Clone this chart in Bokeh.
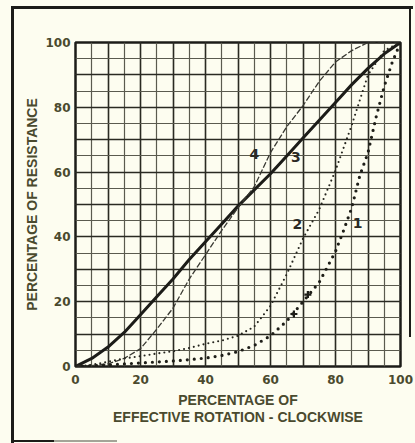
from bokeh.plotting import figure
from bokeh.models import Range1d, SingleIntervalTicker
from bokeh.embed import file_html
from bokeh.resources import INLINE
from bokeh.core.properties import value

# ---- data ----
rotation = [0, 5, 10, 15, 20, 25, 30, 35, 40, 45, 50, 55, 60, 65, 70, 75, 80, 85, 90, 95, 100]
curve3_linear = [0, 2.5, 6, 10.5, 16, 21.5, 27, 33, 38.5, 44, 49.5, 54.5, 59.5, 65, 70.5, 76, 81.5, 87, 92, 96.5, 100]
curve4_s = [0, 0.3, 0.8, 2.5, 5.5, 11.5, 18, 27, 34.5, 42, 49, 55.5, 66, 74, 80.5, 88, 94, 97.5, 100, 100, 100]
curve2_log = [0, 0.5, 1.5, 2.5, 3.2, 4, 4.7, 5.7, 7, 8, 9.5, 12.3, 18.7, 28.5, 39.5, 48.5, 60.5, 74.5, 90, 97.5, 100]
curve1_x = [0, 5, 10, 15, 20, 25, 30, 35, 40, 45, 50, 55, 60, 65, 70, 75, 80, 82.5, 85, 87.5, 90, 92.5, 95, 97.5, 100]
curve1_log = [0, 0.2, 0.5, 0.8, 1.1, 1.4, 1.7, 2.1, 2.6, 3.4, 4.6, 6.5, 9.5, 14, 20, 26, 35.5, 42, 49, 59, 66, 77, 86.5, 94, 100]
curve1_marks_x = [67.2, 71.5]
curve1_marks_y = [16.2, 22.2]
label_text = ["4", "3", "2", "1"]
label_x = [55, 67.8, 68.3, 86.8]
label_y = [65.6, 64.6, 44, 44.3]

BG = "#fdfdf0"
INK = "#1c1c18"
TXT = "#4a4a2e"

# scanned-page frame lines, drawn as the page background behind the (transparent) border area
ink_grad = "linear-gradient(%s,%s)" % (INK, INK)
gray_grad = "linear-gradient(#a4a498,#a4a498)"
page_styles = {
    "background-color": BG,
    "background-image": ", ".join([ink_grad, ink_grad, ink_grad, ink_grad, gray_grad]),
    "background-size": "3px 436px, 402px 3px, 2px 330px, 42px 2px, 64px 2px",
    "background-position": "11px 7px, 11px 6px, 409px 7px, 12px 440px, 53px 440px",
    "background-repeat": "no-repeat",
}

p = figure(width=415, height=443, output_backend="svg", toolbar_location=None,
           x_range=Range1d(0, 100), y_range=Range1d(0, 100),
           min_border_left=75, min_border_right=15, min_border_top=42, min_border_bottom=77,
           styles=page_styles)
p.background_fill_color = BG
p.border_fill_color = None
p.outline_line_color = INK
p.outline_line_width = 2.5

for ax in (p.xaxis[0], p.yaxis[0]):
    ax.ticker = SingleIntervalTicker(interval=20, num_minor_ticks=0)
    ax.axis_line_color = None
    ax.major_tick_line_color = None
    ax.minor_tick_line_color = None
    ax.major_tick_in = 0
    ax.major_tick_out = 0
    ax.minor_tick_in = 0
    ax.minor_tick_out = 0
    ax.major_label_text_font = "DejaVu Sans"
    ax.major_label_text_font_style = "bold"
    ax.major_label_text_font_size = "12px"
    ax.major_label_text_color = TXT
    ax.axis_label_text_font = "Liberation Sans"
    ax.axis_label_text_font_style = "bold"
    ax.axis_label_text_font_size = "14px"
    ax.axis_label_text_line_height = 1.1
    ax.axis_label_text_color = TXT

p.xaxis.axis_label = "PERCENTAGE OF\nEFFECTIVE ROTATION - CLOCKWISE"
p.yaxis.axis_label = "PERCENTAGE OF RESISTANCE"
p.xaxis.major_label_standoff = 8
p.yaxis.major_label_standoff = 5
p.xaxis.axis_label_standoff = 5
p.yaxis.axis_label_standoff = 2

for g in (p.xgrid[0], p.ygrid[0]):
    g.ticker = SingleIntervalTicker(interval=10, num_minor_ticks=2)
    g.grid_line_color = "#2a2a22"
    g.grid_line_width = 1.5
    g.minor_grid_line_color = "#5a5a4e"
    g.minor_grid_line_width = 1.2

# curves
p.line(rotation, curve3_linear, line_color=INK, line_width=3)
p.line(rotation, curve4_s, line_color="#3a3a33", line_width=1.3, line_dash="6 2")
p.line(rotation, curve2_log, line_color="#26261f", line_width=2.1, line_dash="0 5", line_cap="round")
p.line(curve1_x, curve1_log, line_color="#1e1e18", line_width=3.2, line_dash="0 7", line_cap="round")
p.scatter(curve1_marks_x, curve1_marks_y, marker="cross", size=7, line_width=2.2, line_color="#1e1e18")

p.text(label_x, label_y, text=label_text, text_align="center", text_baseline="middle",
       text_font=value("DejaVu Sans"), text_font_style="bold", text_font_size="14px",
       text_color="#2a2a24")

open("out.html", "w").write(file_html(p, INLINE))
